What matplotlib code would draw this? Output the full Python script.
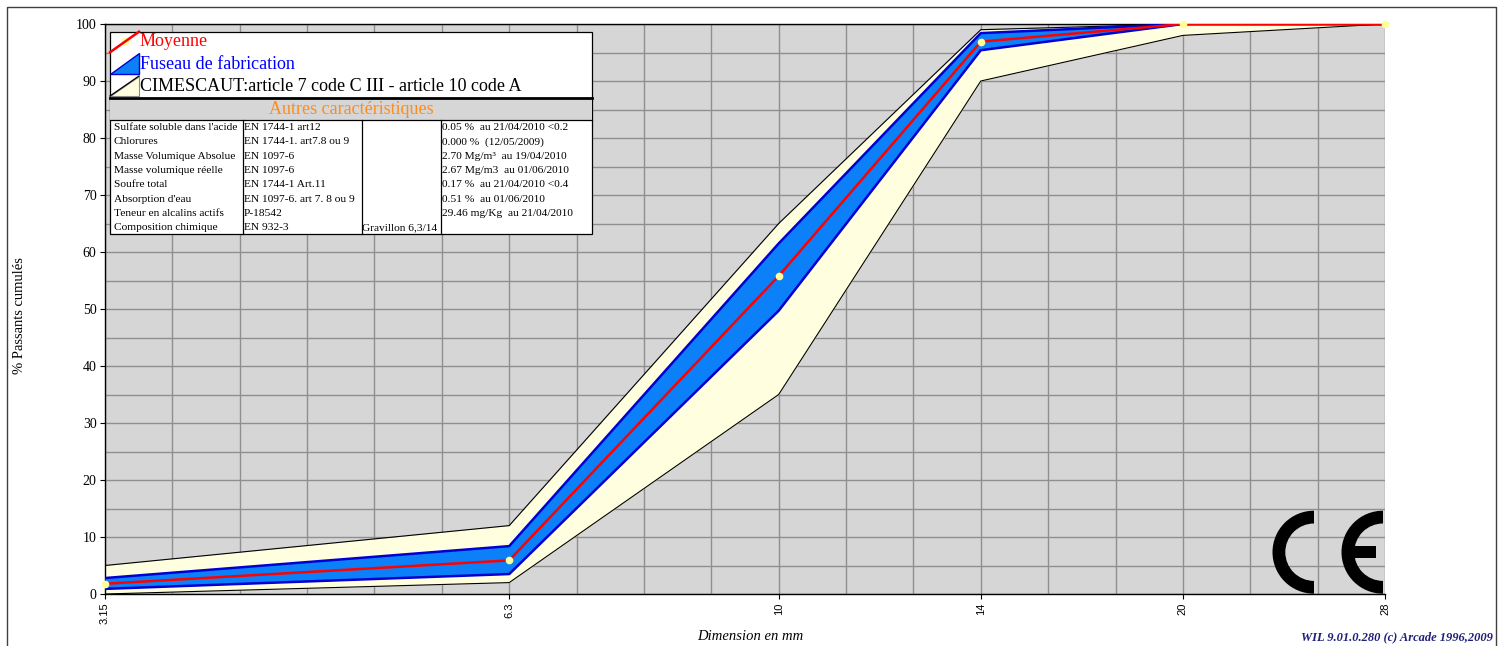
import numpy as np
import matplotlib
matplotlib.use('Agg')
import matplotlib.pyplot as plt
from matplotlib.patches import Rectangle, Polygon, Wedge

# ---------------- data ----------------
sieves = [3.15, 6.3, 10, 14, 20, 28]
sieve_labels = ['3.15', '6.3', '10', '14', '20', '28']
r20_series = [3.15, 3.55, 4, 4.5, 5, 5.6, 6.3, 7.1, 8, 9, 10, 11.2, 12.5,
              14, 16, 18, 20, 22.4, 25, 28]
moyenne = [1.8, 5.9, 55.8, 96.9, 100, 100]
fuseau_min = [0.9, 3.5, 49.7, 95.4, 100, 100]
fuseau_max = [2.8, 8.4, 61.5, 98.4, 100, 100]
spec_min = [0, 2, 35, 90, 98, 100]
spec_max = [5, 12, 65, 99, 100, 100]
y_ticks = list(range(0, 101, 10))
y_grid = list(range(0, 101, 5))

legend_labels = ['Moyenne', 'Fuseau de fabrication',
                 'CIMESCAUT:article 7 code C III - article 10 code A']
table_title = 'Autres caractéristiques'
prop_names = ["Sulfate soluble dans l'acide", 'Chlorures', 'Masse Volumique Absolue',
              'Masse volumique réelle', 'Soufre total', "Absorption d'eau",
              'Teneur en alcalins actifs', 'Composition chimique']
prop_norms = ['EN 1744-1 art12', 'EN 1744-1. art7.8 ou 9', 'EN 1097-6', 'EN 1097-6',
              'EN 1744-1 Art.11', 'EN 1097-6. art 7. 8 ou 9', 'P-18542', 'EN 932-3']
prop_notes = ['', '', '', '', '', '', '', 'Gravillon 6,3/14']
prop_values = ['0.05 %  au 21/04/2010 <0.2', '0.000 %  (12/05/2009)',
               '2.70 Mg/m³  au 19/04/2010', '2.67 Mg/m3  au 01/06/2010',
               '0.17 %  au 21/04/2010 <0.4', '0.51 %  au 01/06/2010',
               '29.46 mg/Kg  au 21/04/2010', '']
x_title = 'Dimension en mm'
y_title = '% Passants cumulés'
credit = 'WIL 9.01.0.280 (c) Arcade 1996,2009'

# ---------------- style ----------------
SERIF = ['Liberation Serif', 'DejaVu Serif']
SANS = ['Liberation Sans', 'DejaVu Sans']
BG = '#d6d6d6'
GRID = '#8f8f8f'
CREAM = '#ffffe0'
BLUE_FILL = '#0b80f8'
BLUE_EDGE = '#0000d0'
RED = '#ff0000'
DOT = '#ffff99'
ORANGE = '#ff8c1a'

W, H = 1507, 646
fig = plt.figure(figsize=(W / 100, H / 100), dpi=100)

L, R, T, B = 105, 1385, 24, 594
ax = fig.add_axes([L / W, 1 - B / H, (R - L) / W, (B - T) / H])
ax.set_facecolor(BG)

log_r20 = np.log(np.array(r20_series))
idx = np.arange(len(r20_series), dtype=float)


def fwd(x):
    x = np.asarray(x, dtype=float)
    return np.interp(np.log(np.clip(x, 1e-9, None)), log_r20, idx)


def inv(i):
    i = np.asarray(i, dtype=float)
    return np.exp(np.interp(i, idx, log_r20))


ax.set_xscale('function', functions=(fwd, inv))
ax.set_xlim(sieves[0], sieves[-1])
ax.set_ylim(0, 100)

# grid
ax.set_xticks(sieves)
ax.set_xticklabels(sieve_labels, rotation=90, family=SANS, fontsize=8)
ax.set_xticks(r20_series, minor=True)
ax.set_yticks(y_ticks)
ax.set_yticklabels([str(v) for v in y_ticks], family=SERIF, fontsize=10)
ax.set_yticks(y_grid, minor=True)
ax.grid(True, which='both', color=GRID, linewidth=1.0, zorder=0)
ax.set_axisbelow(True)
ax.tick_params(which='major', direction='out', length=3.6, width=0.8, pad=2.5)
ax.tick_params(which='minor', length=0)
ax.spines['right'].set_visible(False)
for s in ['left', 'bottom', 'top']:
    ax.spines[s].set_color('black')
    ax.spines[s].set_linewidth(1.0)

# specification envelope
ax.fill_between(sieves, spec_min, spec_max, color=CREAM, zorder=2, linewidth=0)
ax.plot(sieves, spec_max, color='black', lw=0.8, zorder=3)
ax.plot(sieves, spec_min, color='black', lw=0.8, zorder=3)
# production band
ax.fill_between(sieves, fuseau_min, fuseau_max, color=BLUE_FILL, zorder=4, linewidth=0)
ax.plot(sieves, fuseau_max, color=BLUE_EDGE, lw=1.8, zorder=5)
ax.plot(sieves, fuseau_min, color=BLUE_EDGE, lw=1.8, zorder=5)
# mean
ax.plot(sieves, moyenne, color=RED, lw=1.8, zorder=6)
ax.plot(sieves, moyenne, linestyle='none', marker='o', markersize=5.5,
        markerfacecolor=DOT, markeredgecolor='none', zorder=7, clip_on=False)

# ---------------- overlay in pixel coordinates ----------------
ov = fig.add_axes([0, 0, 1, 1])
ov.set_xlim(0, W)
ov.set_ylim(H, 0)
ov.axis('off')
ov.patch.set_alpha(0)

# outer frame
ov.plot([7, 7, 1496, 1496], [H + 5, 7, 7, H + 5], color='#404040', lw=1.0, clip_on=False)

# legend / table box
bx0, bx1, by0, by1 = 110, 591.7, 31.7, 234.3
ov.add_patch(Rectangle((bx0, by0), bx1 - bx0, by1 - by0, facecolor='white',
                       edgecolor='black', lw=0.9, zorder=1))
ov.add_patch(Rectangle((bx0, 98.3), bx1 - bx0, 120 - 98.3, facecolor=BG,
                       edgecolor='none', zorder=2))
ov.plot([bx0, bx1], [98.3, 98.3], color='black', lw=2.0, zorder=3)
ov.plot([bx0, bx1], [120, 120], color='black', lw=0.9, zorder=3)
for cx in [243.3, 361.5, 441.0]:
    ov.plot([cx, cx], [120, by1], color='black', lw=0.9, zorder=3)

# legend symbols
ov.plot([125], [40.5], marker='o', markersize=5, color=DOT, zorder=3)
ov.plot([110, 139], [52.3, 31.7], color=RED, lw=1.8, zorder=4)
ov.add_patch(Polygon([(110, 74.3), (139, 74.3), (139, 53.3)], closed=True,
                     facecolor=BLUE_FILL, edgecolor=BLUE_EDGE, lw=1.0, zorder=3))
ov.add_patch(Polygon([(110, 96), (139, 96), (139, 76)], closed=True,
                     facecolor=CREAM, edgecolor='#888888', lw=0.8, zorder=3))
ov.plot([110, 139], [96, 76], color='black', lw=0.9, zorder=4)

leg_colors = [RED, '#0000ff', 'black']
leg_y = [42, 64.5, 86.5]
for lab, col, yy in zip(legend_labels, leg_colors, leg_y):
    ov.text(139.5, yy, lab, color=col, family=SERIF, fontsize=13, va='center',
            ha='left', zorder=5)
ov.text((bx0 + bx1) / 2, 109.5, table_title, color=ORANGE, family=SERIF,
        fontsize=13, va='center', ha='center', zorder=5)

row_y0, row_dy = 127.5, 14.3
for i in range(len(prop_names)):
    yy = row_y0 + i * row_dy
    for xx, txt in zip([114, 244, 362, 442],
                       [prop_names[i], prop_norms[i], prop_notes[i], prop_values[i]]):
        if txt:
            ov.text(xx, yy, txt, family=SERIF, fontsize=8.2, va='center',
                    ha='left', color='black', zorder=5)

# CE mark
for cx in [1314, 1383]:
    ov.add_patch(Wedge((cx, 552.2), 41.5, 90, 270, width=12.8,
                       facecolor='black', edgecolor='none', zorder=6))
ov.add_patch(Rectangle((1350, 545.5), 26, 12, facecolor='black',
                       edgecolor='none', zorder=6))

# axis titles and credit
ov.text(20, 316, y_title, rotation=90, family=SERIF, fontsize=10.5,
        va='center', ha='center')
ov.text(750, 637, x_title, family=SERIF, fontsize=10.5, style='italic',
        va='center', ha='center')
ov.text(1493, 637, credit, family=SERIF, fontsize=9, style='italic',
        weight='bold', color='#1f1f7a', va='center', ha='right')

fig.savefig('out.png', dpi=100)
